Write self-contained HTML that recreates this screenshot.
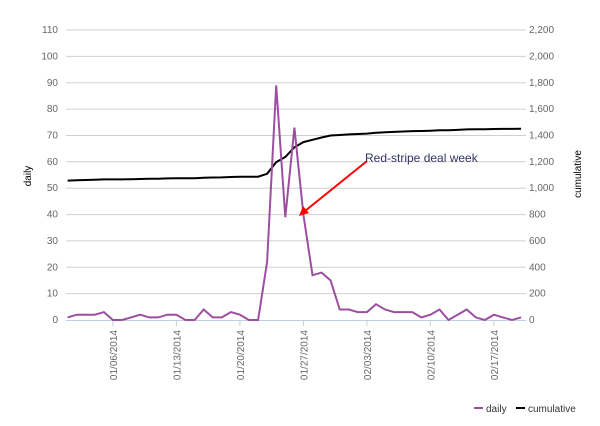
<!DOCTYPE html>
<html><head><meta charset="utf-8"><style>
html,body{margin:0;padding:0;background:#fff;}
svg{display:block;font-family:"Liberation Sans",sans-serif;}
</style></head><body>
<svg id="s" width="600" height="426" viewBox="0 0 600 426" xmlns="http://www.w3.org/2000/svg">
<g id="grid" stroke="#d0d0d0" stroke-width="1"></g>
<g id="ylab" font-size="10" fill="#666"></g>
<g id="xlab" font-size="10" fill="#666"></g>
<line x1="66" y1="320.5" x2="526" y2="320.5" stroke="#c0d0e0" stroke-width="1"/>
<path id="cum" fill="none" stroke="#000" stroke-width="2"/>
<path id="daily" fill="none" stroke="#9c4fa0" stroke-width="2"/>
<text x="0" y="0" transform="translate(31,176) rotate(-90)" text-anchor="middle" font-size="10" fill="#000">daily</text>
<text x="0" y="0" transform="translate(581,174) rotate(-90)" text-anchor="middle" font-size="10" fill="#000">cumulative</text>
<line x1="367" y1="161" x2="305" y2="211" stroke="#f00" stroke-width="2"/>
<polygon points="299,216 303,206 309,213" fill="#f00"/>
<text x="365" y="162" font-size="12" fill="#333366">Red-stripe deal week</text>
<line x1="474" y1="408" x2="483" y2="408" stroke="#9c4fa0" stroke-width="2"/>
<text x="486" y="412" font-size="10" fill="#333">daily</text>
<line x1="516" y1="408" x2="525" y2="408" stroke="#000" stroke-width="2"/>
<text x="528" y="412" font-size="10" fill="#333">cumulative</text>
</svg>
<script>
var NS="http://www.w3.org/2000/svg";
function el(p,t,a,txt){var e=document.createElementNS(NS,t);for(var k in a)e.setAttribute(k,a[k]);if(txt!=null)e.textContent=txt;document.getElementById(p).appendChild(e);}
function Y(v){return 320-v*2.636;}
for(var i=0;i<=11;i++){var y=Y(i*10);
 if(i>0)el("grid","line",{x1:66,x2:526,y1:y.toFixed(1),y2:y.toFixed(1)});
 el("ylab","text",{x:58,y:(y+3).toFixed(1),"text-anchor":"end"},String(i*10));
 var c=i*200;el("ylab","text",{x:529,y:(y+3).toFixed(1)},c>=1000?(Math.floor(c/1000)+","+String(c%1000).padStart(3,"0")):String(c));}
var d=[1,2,2,2,3,0,0,1,2,1,1,2,2,0,0,4,1,1,3,2,0,0,22,89,39,73,40,17,18,15,4,4,3,3,6,4,3,3,3,1,2,4,0,2,4,1,0,2,1,0,1];
function X(i){return 67.6+i*9.07;}
var p="",q="",c=1057;
for(var i=0;i<d.length;i++){c+=d[i];p+=(i?"L":"M")+X(i).toFixed(1)+","+Y(d[i]).toFixed(1);q+=(i?"L":"M")+X(i).toFixed(1)+","+(320-c*0.1318).toFixed(1);}
document.getElementById("daily").setAttribute("d",p);
document.getElementById("cum").setAttribute("d",q);
var labs=["01/06/2014","01/13/2014","01/20/2014","01/27/2014","02/03/2014","02/10/2014","02/17/2014"];
for(var k=0;k<7;k++){var x=X(5+7*k);
 el("xlab","line",{x1:x.toFixed(1),x2:x.toFixed(1),y1:320,y2:326,stroke:"#c0d0e0"});
 el("xlab","text",{transform:"translate("+(x+4).toFixed(1)+",330) rotate(-90)","text-anchor":"end"},labs[k]);}
</script>
</body></html>
